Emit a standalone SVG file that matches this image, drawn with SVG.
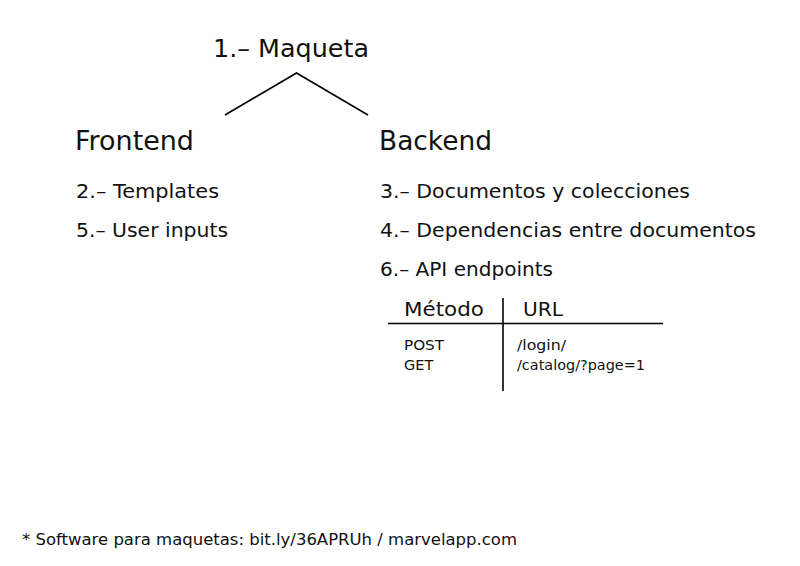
<svg xmlns="http://www.w3.org/2000/svg" width="800" height="566" viewBox="0 0 800 566">
  <style>
    text { font-family: "DejaVu Sans", "Noto Sans", sans-serif; fill: #111; }
    .title { font-size: 25px; }
    .head { font-size: 26px; }
    .item { font-size: 20px; }
    .th { font-size: 20px; }
    .td { font-size: 14.5px; }
    .foot { font-size: 16px; }
    .ln { stroke: #000; stroke-width: 1.6; fill: none; }
  </style>
  <rect width="800" height="566" fill="#fff"/>
  <g id="connectors">
    <polyline class="ln" points="225,115 296.5,73 368,115"/>
  </g>
  <g id="maqueta">
    <text class="title" x="213" y="57" textLength="156" lengthAdjust="spacingAndGlyphs">1.– Maqueta</text>
  </g>
  <g id="frontend">
    <text class="head" x="75" y="150" textLength="119" lengthAdjust="spacingAndGlyphs">Frontend</text>
    <text class="item" x="76" y="198" textLength="143" lengthAdjust="spacingAndGlyphs">2.– Templates</text>
    <text class="item" x="76" y="237" textLength="152" lengthAdjust="spacingAndGlyphs">5.– User inputs</text>
  </g>
  <g id="backend">
    <text class="head" x="379" y="150" textLength="113" lengthAdjust="spacingAndGlyphs">Backend</text>
    <text class="item" x="380" y="198" textLength="310" lengthAdjust="spacingAndGlyphs">3.– Documentos y colecciones</text>
    <text class="item" x="380" y="237" textLength="376" lengthAdjust="spacingAndGlyphs">4.– Dependencias entre documentos</text>
    <text class="item" x="380" y="276" textLength="173" lengthAdjust="spacingAndGlyphs">6.– API endpoints</text>
  </g>
  <g id="api-table">
    <line class="ln" x1="388" y1="323.5" x2="663" y2="323.5"/>
    <line class="ln" x1="503" y1="298" x2="503" y2="391"/>
    <text class="th" x="404" y="316" textLength="80" lengthAdjust="spacingAndGlyphs">Método</text>
    <text class="th" x="523" y="316" textLength="40" lengthAdjust="spacingAndGlyphs">URL</text>
    <text class="td" x="404" y="350" textLength="40" lengthAdjust="spacingAndGlyphs">POST</text>
    <text class="td" x="404" y="370">GET</text>
    <text class="td" x="517" y="350" textLength="49" lengthAdjust="spacingAndGlyphs">/login/</text>
    <text class="td" x="517" y="370" textLength="128" lengthAdjust="spacingAndGlyphs">/catalog/?page=1</text>
  </g>
  <g id="footnote">
    <text class="foot" x="22" y="545" textLength="495" lengthAdjust="spacingAndGlyphs">* Software para maquetas: bit.ly/36APRUh / marvelapp.com</text>
  </g>
</svg>
